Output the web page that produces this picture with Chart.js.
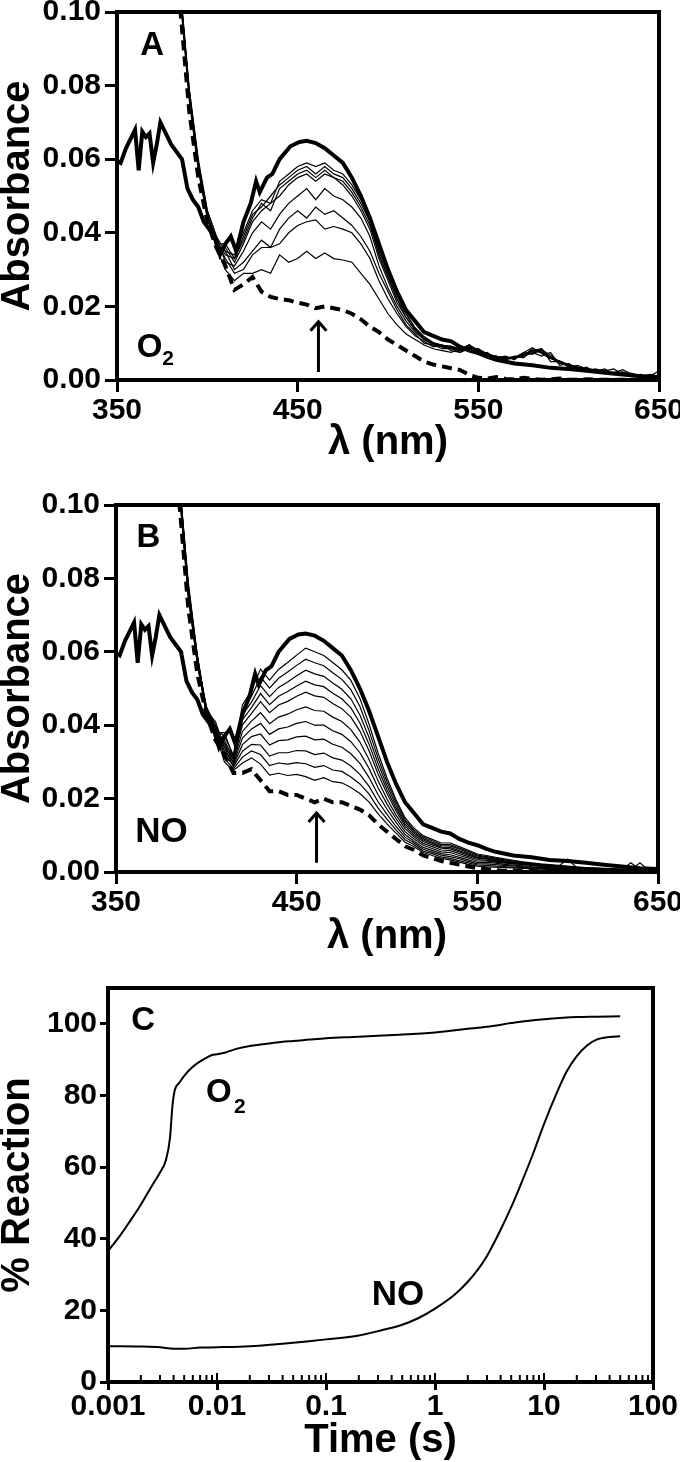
<!DOCTYPE html>
<html>
<head>
<meta charset="utf-8">
<script src="https://cdn.jsdelivr.net/npm/chart.js@4.4.1/dist/chart.umd.min.js"></script>
<style>
  html, body { margin: 0; padding: 0; background: #fff; }
  body { width: 680px; height: 1462px; overflow: hidden; position: relative; }
  canvas { position: absolute; left: 0; }
</style>
</head>
<body>
<canvas id="panelA" width="700" height="478" style="top:-8px"></canvas>
<canvas id="panelB" width="700" height="478" style="top:485px"></canvas>
<canvas id="panelC" width="700" height="502" style="top:960px"></canvas>
<script>
// ---- data: spectra (absorbance vs wavelength, nm) ----
const wl = [380,385,390,395,400,405,410,415,420,425,430,435,440,445,450,455,460,465,470,475,
            480,485,490,495,500,505,510,515,520,525,530,535,540,545,550,555,560,565,570,575,
            580,585,590,595,600,605,610,615,620,625,630,635,640,645,650];

// thick solid reference spectrum (same in A and B)
const thickWl = [350,352,355,358,360,362,364,366,368,370,
                 372,374,377,380,383,386,389,392,395,398,
                 401,404,407,410,413,416,420,424,427,429,
                 433,436,440,446,451,455,460,465,470,475,
                 480,485,490,495,500,505,510,515,520,525,
                 530,535,540,545,550,555,560,570,580,590,
                 600,610,620,630,640,650];
const thickAbs = [.0595,.059,.063,.066,.068,.057,.0675,.066,.067,.059,
                  .064,.070,.067,.064,.062,.060,.052,.049,.047,.043,
                  .041,.039,.034,.037,.039,.035,.043,.048,.054,.051,
                  .055,.056,.060,.0635,.0647,.065,.0644,.063,.061,.059,
                  .055,.050,.044,.037,.030,.024,.019,.016,.013,.012,
                  .011,.0105,.009,.008,.0073,.0063,.0055,.0045,.004,.0033,
                  .003,.0025,.002,.0015,.001,.0008];

// panel A (O2): dashed start spectrum and intermediate traces
const dashedA = [.14,.101,.073,.055,.043,.036,.031,
  .0245,.026,.028,.024,.0226,.022,.0217,.021,.0205,.0195,.020,.0195,.019,.018,.0165,.0145,.013,.011,.0095,.008,
  .0065,.005,.0042,.0037,.0032,.0027,.0014,.0006,.0004,.0008,.0003,.0002,.0006,.0003,.0001,.0002,.0004,.0001,.0001,.0002,.0001,.0001,.0001,.0001,.0001,.0001,.0001,.0001];
const traceA1 = [.14,.104,.076,.057,.044,.036,.030,
  .027,.029,.029,.030,.029,.034,.032,.033,.035,.033,.0345,.033,.0326,.032,.029,.026,.022,.018,.015,.0125,
  .011,.0095,.0085,.008,.0075,.0085,.0095,.0075,.0065,.006,.0055,.006,.0065,.0085,.0075,.006,.0045,.004,.0035,.003,.0028,.0025,.002,.0028,.0015,.0012,.001,.0008];
const traceA2 = [.14,.105,.077,.058,.045,.038,.033,
  .029,.030,.034,.036,.036,.037,.040,.042,.043,.0435,.041,.0417,.041,.040,.037,.033,.027,.022,.018,.0145,
  .012,.0105,.009,.0095,.008,.0075,.0085,.0085,.007,.006,.0065,.0055,.0075,.007,.0085,.006,.005,.0035,.004,.003,.0025,.003,.0015,.002,.0018,.001,.0015,.001];
const traceA3 = [.14,.106,.078,.058,.044,.037,.035,
  .030,.032,.035,.038,.036,.041,.044,.046,.044,.047,.045,.046,.044,.042,.039,.035,.029,.024,.019,.015,
  .0125,.010,.0095,.0085,.0085,.0075,.0095,.007,.0075,.0055,.006,.006,.0065,.0075,.0065,.0075,.004,.0045,.003,.0035,.002,.0025,.003,.0015,.001,.0015,.0008,.0012];
const traceA4 = [.14,.105,.077,.059,.046,.039,.032,
  .031,.035,.040,.043,.041,.045,.048,.050,.052,.049,.052,.050,.049,.047,.044,.039,.031,.025,.020,.016,
  .013,.011,.0095,.009,.0085,.008,.0085,.0075,.0065,.0065,.0055,.0065,.006,.008,.0085,.005,.005,.0035,.0035,.0025,.003,.002,.002,.0022,.0015,.0012,.0012,.0008];
const traceA5 = [.14,.106,.078,.058,.045,.036,.036,
  .032,.037,.043,.046,.048,.050,.053,.055,.056,.054,.056,.055,.053,.050,.046,.041,.033,.027,.021,.017,
  .0135,.011,.010,.0095,.009,.008,.009,.0078,.007,.006,.0062,.0058,.0068,.0072,.0082,.0068,.0048,.004,.0032,.003,.0025,.0022,.0018,.0016,.0014,.0012,.001,.0009];
const traceA6 = [.14,.105,.079,.059,.044,.038,.034,
  .033,.038,.044,.048,.046,.052,.054,.056,.057,.055,.057,.055,.054,.051,.047,.042,.034,.028,.022,.017,
  .0138,.0112,.0098,.0092,.0088,.0082,.0096,.0076,.0068,.0064,.0058,.0062,.0074,.0088,.0072,.0058,.0052,.0042,.0035,.0028,.0026,.0021,.0018,.002,.0013,.0011,.0012,.0008];
const traceA7 = [.14,.106,.078,.059,.045,.037,.037,
  .033,.039,.045,.047,.050,.053,.055,.057,.058,.056,.058,.056,.055,.052,.048,.043,.034,.028,.022,.018,
  .014,.0115,.010,.009,.009,.0085,.009,.008,.007,.0062,.006,.006,.007,.008,.0078,.0062,.005,.0038,.0033,.003,.0024,.0022,.0016,.0018,.0012,.001,.0009,.0007];
const traceA8 = [.14,.107,.079,.060,.046,.039,.035,
  .034,.040,.046,.049,.048,.054,.056,.058,.059,.058,.059,.057,.056,.053,.049,.044,.035,.029,.023,.018,
  .0142,.0118,.0102,.0094,.0092,.0084,.0094,.0082,.0072,.0064,.0061,.0063,.0069,.0079,.0074,.0064,.0049,.0041,.0034,.0031,.0026,.0023,.0019,.0017,.0014,.0011,.001,.0025];

// panel B (NO)
const dashedB = [.14,.101,.072,.054,.043,.036,.032,
  .027,.027,.028,.025,.022,.022,.021,.021,.020,.019,.020,.019,.019,.018,.017,.0155,.013,.011,.009,.007,
  .006,.0045,.0038,.003,.0025,.002,.0015,.001,.0008,.0005,.0003,.0004,.0002,.0003,.0002,.0002,.0001,.0002,.0001,.0001,.0001,.0001,.0001,.0001,.0001,.0001,.0001,.0001];
const traceB1 = [.14,.107,.078,.059,.044,.039,.037,
  .0319,.0455,.0495,.0553,.0523,.0552,.0571,.0591,.061,.060,.059,.0571,.0551,.0522,.0473,.0404,.0325,.0256,.0197,.0148,
  .0119,.0099,.0089,.0079,.0079,.0069,.0059,.0049,
  .0045,.004,.0036,.0032,.0028,.0025,.0022,.002,.0018,.0016,.0014,.0012,.0011,.001,.0009,.0008,.0007,.0006,.0005,.0004];
const traceB2 = [.14,.105,.076,.058,.045,.040,.035,
  .0315,.0442,.0479,.0531,.0501,.0528,.0545,.0563,.058,.057,.0562,.0543,.0525,.0497,.0451,.0386,.0311,.0246,.019,.0142,
  .0114,.0095,.0085,.0075,.0075,.0065,.0056,.0046,
  .0042,.0038,.0033,.003,.0027,.0023,.0021,.0019,.0017,.0015,.0013,.0012,.001,.0009,.0008,.0007,.0025,.0006,.0005,.0004];
const traceB3 = [.14,.106,.077,.057,.043,.038,.038,
  .0312,.0428,.0463,.0508,.0478,.0503,.0518,.0535,.055,.054,.0533,.0515,.0498,.0472,.0428,.0367,.0297,.0235,.0182,.0137,
  .011,.0091,.0081,.0072,.0071,.0062,.0052,.0043,
  .004,.0035,.0031,.0028,.0025,.0022,.002,.0018,.0016,.0035,.0012,.0011,.001,.0009,.0008,.0007,.0006,.0005,.0004,.0003];
const traceB4 = [.14,.104,.075,.057,.044,.041,.034,
  .0308,.0415,.0448,.0486,.0456,.0479,.0492,.0507,.052,.051,.0505,.0487,.0472,.0447,.0406,.0349,.0282,.0224,.0174,.0131,
  .0106,.0087,.0078,.0068,.0067,.0058,.0049,.004,
  .0037,.0033,.0029,.0026,.0023,.0021,.0019,.0017,.0015,.0013,.0012,.001,.0009,.0008,.0007,.0006,.0005,.0025,.0004,.0003];
const traceB5 = [.14,.107,.078,.058,.045,.037,.036,
  .0305,.0401,.0432,.0464,.0434,.0455,.0465,.0479,.049,.048,.0476,.0459,.0445,.0422,.0384,.0331,.0268,.0214,.0166,.0125,
  .0101,.0083,.0074,.0065,.0063,.0055,.0046,.0038,
  .0035,.0031,.0028,.0025,.0022,.002,.0018,.0016,.0014,.0013,.0011,.001,.0009,.0008,.0007,.0006,.0005,.0004,.0003,.0003];
const traceB6 = [.14,.105,.077,.059,.044,.040,.033,
  .030,.0383,.0411,.0434,.0404,.0422,.043,.0442,.045,.044,.0438,.0422,.041,.0388,.0354,.0307,.0249,.0199,.0155,.0118,
  .0096,.0078,.0069,.006,.0058,.005,.0042,.0034,
  .0032,.0029,.0026,.0023,.0021,.0019,.0017,.0015,.0014,.0012,.0011,.001,.0009,.0008,.0007,.0006,.0005,.0004,.0003,.0002];
const traceB7 = [.14,.106,.078,.058,.043,.038,.035,
  .0295,.0365,.039,.0405,.0375,.039,.0395,.0405,.041,.040,.040,.0385,.0375,.0355,.0325,.0283,.023,.0185,.0145,.011,
  .009,.0073,.0064,.0055,.0053,.0045,.0038,.003,
  .003,.0027,.0024,.0022,.002,.0018,.0016,.0014,.0013,.0011,.001,.0009,.0008,.0007,.0006,.0005,.0004,.0004,.0003,.0002];
const traceB8 = [.14,.105,.076,.057,.045,.039,.032,
  .029,.0347,.0369,.0376,.0346,.0358,.036,.0368,.037,.036,.0362,.0348,.034,.0322,.0296,.0258,.0211,.0171,.0135,.0102,
  .0084,.0067,.0059,.005,.0047,.004,.0033,.0026,
  .0026,.0024,.0021,.0019,.0017,.0015,.0014,.0012,.0011,.001,.0009,.0008,.0007,.0006,.0005,.0005,.0004,.0003,.0003,.0002];
const traceB9 = [.14,.107,.079,.059,.044,.037,.034,
  .0286,.0329,.0348,.0346,.0316,.0325,.0325,.0331,.033,.032,.0324,.0311,.0305,.0289,.0266,.0234,.0192,.0157,.0124,.0095,
  .0079,.0062,.0054,.0046,.0042,.0036,.0029,.0022,
  .0022,.002,.0018,.0016,.0015,.0013,.0012,.0011,.001,.0009,.0008,.0007,.0006,.0006,.0005,.0004,.0004,.0003,.0002,.0002];
const traceB10 = [.14,.104,.075,.057,.043,.040,.031,
  .0281,.0313,.033,.032,.029,.0297,.0294,.0298,.0295,.0285,.029,.0278,.0274,.0259,.024,.0213,.0175,.0144,.0115,.0088,
  .0074,.0057,.005,.0041,.0037,.0031,.0025,.0019,
  .0018,.0016,.0015,.0013,.0012,.0011,.001,.0009,.0008,.0007,.0007,.0006,.0005,.0005,.0004,.0004,.0003,.0003,.0002,.0002];
const traceB11 = [.14,.106,.077,.058,.044,.038,.030,
  .0277,.0297,.0311,.0294,.0264,.0269,.0263,.0266,.026,.025,.0257,.0246,.0243,.023,.0214,.0191,.0159,.0131,.0106,.0081,
  .0069,.0053,.0045,.0037,.0033,.0027,.0021,.0016,
  .0014,.0013,.0012,.0011,.001,.0009,.0008,.0007,.0007,.0006,.0005,.0005,.0004,.0004,.0003,.0003,.0003,.0002,.0002,.0001];

const wlTicks = [350, 450, 550, 650];
const absTicks = [0, 0.02, 0.04, 0.06, 0.08, 0.10];

// ---- data: panel C kinetics ----
const tO2 = [0.001,0.0013,0.0016,0.002,0.0025,0.003,0.0034,0.0037,0.0039,0.0041,
             0.0045,0.005,0.006,0.007,0.008,0.009,0.01,0.012,0.015,0.02,
             0.025,0.03,0.04,0.05,0.07,0.1,0.2,0.3,0.5,1,
             2,3,5,7,10,15,20,30,50];
const pctO2 = [36.5,41,45,49.5,54.5,58.5,62,68,77,81.5,
               83.5,85.5,88,89.5,90.5,91.3,91.5,92,93,93.8,
               94.2,94.5,95,95.2,95.6,96,96.4,96.7,97,97.6,
               98.6,99.2,100.2,100.8,101.3,101.7,101.9,102,102.1];
const tNO = [0.001,0.002,0.003,0.004,0.005,0.007,0.01,0.02,0.04,0.07,
             0.1,0.2,0.3,0.5,0.7,1,1.5,2,2.5,3,
             4,5,6,8,10,13,16,20,25,30,
             40,50];
const pctNO = [10,9.9,9.7,9.3,9.3,9.6,9.7,10,10.7,11.4,
               11.9,13,14.2,16,17.8,20.5,24.3,28,31.6,35.2,
               42.5,48.8,54.5,64,72,80.5,86.5,91,94,95.5,
               96.3,96.5];
const timeTicks = [0.001, 0.01, 0.1, 1, 10, 100];
const pctTicks = [0, 20, 40, 60, 80, 100];

// ---- drawing ----
const FONT = "'Liberation Sans', Arial, Helvetica, sans-serif";
Chart.defaults.font.family = FONT;
Chart.defaults.color = '#000';

const tickFont = {size: 30, weight: 'bold', lineHeight: 1};
const titleFont = {size: 40, weight: 'bold', lineHeight: 1};

// frame, arrow, panel letters, minor log ticks
const panelMarks = {
    id: 'panelMarks',
    afterDatasetsDraw(chart, args, opts) {
        const {ctx, chartArea: a} = chart;
        const x = chart.scales.x, y = chart.scales.y;
        ctx.save();
        ctx.strokeStyle = '#000';
        ctx.fillStyle = '#000';
        ctx.lineWidth = 4;
        ctx.strokeRect(a.left, a.top, a.right - a.left, a.bottom - a.top);

        if (opts.minorTicks) {
            ctx.lineWidth = 2;
            ctx.beginPath();
            for (let e = -3; e < 2; e++) {
                for (let m = 1; m < 10; m++) {
                    const px = x.getPixelForValue(m * Math.pow(10, e));
                    ctx.moveTo(px, a.bottom);
                    ctx.lineTo(px, a.bottom - (m === 1 ? 9 : 7));
                }
            }
            ctx.stroke();
        }

        if (opts.arrow) {
            const ax = x.getPixelForValue(opts.arrow.x);
            const y0 = y.getPixelForValue(opts.arrow.from);
            const y1 = y.getPixelForValue(opts.arrow.to);
            ctx.lineWidth = 3;
            ctx.beginPath();
            ctx.moveTo(ax, y0);
            ctx.lineTo(ax, y1);
            ctx.moveTo(ax - 8, y1 + 9);
            ctx.lineTo(ax, y1);
            ctx.lineTo(ax + 8, y1 + 9);
            ctx.stroke();
        }

        ctx.textAlign = 'center';
        ctx.textBaseline = 'middle';
        (opts.labels || []).forEach(function(l) {
            ctx.font = 'bold ' + l.size + 'px ' + FONT;
            ctx.fillText(l.text, x.getPixelForValue(l.x), y.getPixelForValue(l.y));
        });
        ctx.restore();
    }
};

function pts(xs, ys) {
    return xs.map(function(v, i) { return {x: v, y: ys[i]}; });
}

function axisGrid(len) {
    return {display: true, drawOnChartArea: false, drawTicks: true,
            tickLength: len, tickWidth: 3, tickColor: '#000'};
}

function spectrumChart(id, dashed, traces, box, marks) {
    const datasets = [
        {data: pts(wl, dashed), borderWidth: 4, borderDash: [10, 6]},
        {data: pts(thickWl, thickAbs), borderWidth: 4}
    ].concat(traces.map(function(t) { return {data: pts(wl, t), borderWidth: 1.2}; }))
     .map(function(d) {
        return Object.assign({borderColor: '#000', pointRadius: 0, fill: false, tension: 0}, d);
    });

    return new Chart(document.getElementById(id), {
        type: 'line',
        data: {datasets: datasets},
        options: {
            responsive: false,
            animation: false,
            devicePixelRatio: 1,
            layout: {padding: {left: 0, right: 700 - box.right, top: 20, bottom: box.padBottom}},
            plugins: {legend: {display: false}, tooltip: {enabled: false}, panelMarks: marks},
            scales: {
                x: {
                    type: 'linear', min: 350, max: 650,
                    afterBuildTicks: function(s) { s.ticks = wlTicks.map(function(v) { return {value: v}; }); },
                    afterFit: function(s) { s.height = 87; },
                    grid: axisGrid(12),
                    border: {display: false},
                    ticks: {font: tickFont, padding: 4, maxRotation: 0, autoSkip: false,
                            callback: function(v) { return String(v); }},
                    title: {display: true, text: 'λ (nm)', font: titleFont, padding: {top: 0, bottom: box.titlePad}}
                },
                y: {
                    min: 0, max: 0.1,
                    afterBuildTicks: function(s) { s.ticks = absTicks.map(function(v) { return {value: v}; }); },
                    afterFit: function(s) { s.width = box.left; },
                    grid: axisGrid(12),
                    border: {display: false},
                    ticks: {font: tickFont, padding: 4, callback: function(v) { return v.toFixed(2); }},
                    title: {display: true, text: 'Absorbance', font: titleFont, padding: {top: -2, bottom: 0}}
                }
            }
        },
        plugins: [panelMarks]
    });
}

spectrumChart('panelA', dashedA,
    [traceA1, traceA2, traceA3, traceA4, traceA5, traceA6, traceA7, traceA8],
    {left: 117, right: 659, padBottom: 3, titlePad: 4},
    {
        arrow: {x: 461.5, from: 0.0022, to: 0.0158},
        labels: [
            {text: 'A', x: 369.4, y: 0.0908, size: 33},
            {text: 'O', x: 368, y: 0.0088, size: 33},
            {text: '2', x: 378.3, y: 0.0056, size: 21}
        ]
    });

spectrumChart('panelB', dashedB,
    [traceB1, traceB2, traceB3, traceB4, traceB5, traceB6, traceB7, traceB8, traceB9, traceB10, traceB11],
    {left: 116, right: 658, padBottom: 4, titlePad: 2},
    {
        arrow: {x: 461, from: 0.0025, to: 0.0161},
        labels: [
            {text: 'B', x: 368, y: 0.0911, size: 33},
            {text: 'NO', x: 375.2, y: 0.0108, size: 35}
        ]
    });

new Chart(document.getElementById('panelC'), {
    type: 'line',
    data: {
        datasets: [
            {data: pts(tO2, pctO2)},
            {data: pts(tNO, pctNO)}
        ].map(function(d) {
            return Object.assign({borderColor: '#000', borderWidth: 2, pointRadius: 0, fill: false,
                                  cubicInterpolationMode: 'monotone'}, d);
        })
    },
    options: {
        responsive: false,
        animation: false,
        devicePixelRatio: 1,
        layout: {padding: {left: 0, right: 47, top: 28, bottom: 1}},
        plugins: {
            legend: {display: false}, tooltip: {enabled: false},
            panelMarks: {
                minorTicks: true,
                labels: [
                    {text: 'C', x: 0.0021, y: 100.8, size: 33},
                    {text: 'O', x: 0.0104, y: 80.7, size: 33},
                    {text: '2', x: 0.0162, y: 76.6, size: 21},
                    {text: 'NO', x: 0.458, y: 24.3, size: 35}
                ]
            }
        },
        scales: {
            x: {
                type: 'logarithmic', min: 0.001, max: 100,
                afterBuildTicks: function(s) { s.ticks = timeTicks.map(function(v) { return {value: v}; }); },
                afterFit: function(s) { s.height = 79; },
                grid: axisGrid(8),
                border: {display: false},
                ticks: {font: tickFont, padding: 2, maxRotation: 0, autoSkip: false,
                        callback: function(v) { return String(v); }},
                title: {display: true, text: 'Time (s)', font: titleFont, padding: {top: 0, bottom: 0}}
            },
            y: {
                min: 0, max: 110,
                afterBuildTicks: function(s) { s.ticks = pctTicks.map(function(v) { return {value: v}; }); },
                afterFit: function(s) { s.width = 108; },
                grid: axisGrid(8),
                border: {display: false},
                ticks: {font: tickFont, padding: 3},
                title: {display: true, text: '% Reaction', font: titleFont, padding: {top: -2, bottom: 0}}
            }
        }
    },
    plugins: [panelMarks]
});
</script>
</body>
</html>
